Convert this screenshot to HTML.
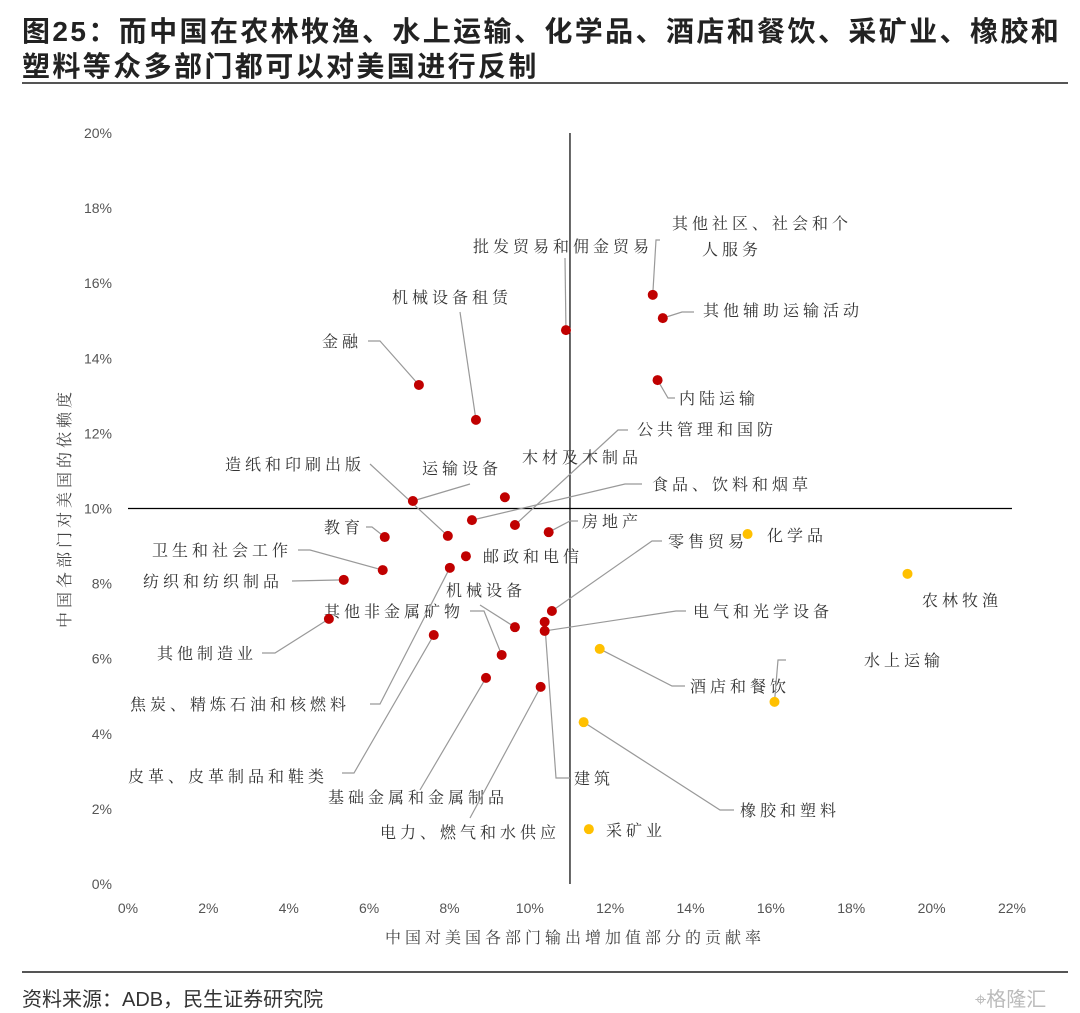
<!DOCTYPE html>
<html><head><meta charset="utf-8">
<style>
body{margin:0;background:#fff;width:1080px;height:1013px;overflow:hidden;font-family:"Liberation Sans","Noto Sans CJK SC",sans-serif}
.t{position:absolute;left:22px;font-size:28px;font-weight:bold;color:#222;letter-spacing:2.4px;white-space:nowrap}
</style></head><body>
<div class="t" style="top:10px">图25：而中国在农林牧渔、水上运输、化学品、酒店和餐饮、采矿业、橡胶和</div>
<div class="t" style="top:45px">塑料等众多部门都可以对美国进行反制</div>
<div style="position:absolute;left:22px;top:82px;width:1046px;height:2px;background:#555"></div>
<div style="position:absolute;left:22px;top:971px;width:1046px;height:2px;background:#555"></div>
<div style="position:absolute;left:22px;top:983px;font-size:20px;color:#333">资料来源：ADB，民生证券研究院</div>
<div style="position:absolute;left:975px;top:983px;font-size:20px;color:#bbb">⌖格隆汇</div>
<svg id="chart" width="1080" height="1013" style="position:absolute;left:0;top:0"></svg>
<script>
const xTicks=[0,2,4,6,8,10,12,14,16,18,20,22];
const yTicks=[0,2,4,6,8,10,12,14,16,18,20];
const crossX=11, crossY=10;
const names=["其他社区、社会和个人服务","其他辅助运输活动","批发贸易和佣金贸易","金融","内陆运输","机械设备租赁","运输设备","造纸和印刷出版","公共管理和国防","食品、饮料和烟草","房地产","教育","纸品","邮政和电信","卫生和社会工作","焦炭、精炼石油和核燃料","纺织和纺织制品","其他制造业","零售贸易","建筑","电气和光学设备","机械设备","皮革、皮革制品和鞋类","其他非金属矿物","基础金属和金属制品","电力、燃气和水供应","化学品","农林牧渔","酒店和餐饮","水上运输","橡胶和塑料","采矿业"];
const xVals=[13.06,13.31,10.9,7.24,13.18,8.66,9.38,7.09,9.63,8.56,10.47,6.39,7.96,8.41,6.34,8.01,5.37,5.0,10.55,10.37,10.37,9.63,7.61,9.3,8.91,10.27,15.42,19.4,11.74,16.09,11.34,11.47];
const yVals=[15.69,15.07,14.75,13.29,13.42,12.36,10.3,10.2,9.56,9.69,9.37,9.24,9.27,8.73,8.36,8.42,8.1,7.06,7.27,6.98,6.74,6.84,6.63,6.1,5.49,5.25,9.32,8.26,6.26,4.85,4.31,1.46];
const groups=["r","r","r","r","r","r","r","r","r","r","r","r","r","r","r","r","r","r","r","r","r","r","r","r","r","r","y","y","y","y","y","y"];
const X=v=>128+v*40.18, Y=v=>884-v*37.55;
const svg=document.getElementById('chart');
const NS="http://www.w3.org/2000/svg";
function mk(tag,at,txt){const e=document.createElementNS(NS,tag);for(const k in at)e.setAttribute(k,at[k]);if(txt!==undefined)e.textContent=txt;svg.appendChild(e);return e;}
let l=mk('line',{x1:X(0),x2:X(22),y1:Y(crossY),y2:Y(crossY),stroke:'#000','stroke-width':1.2});


l=mk('line',{x1:X(crossX),x2:X(crossX),y1:Y(20),y2:Y(0),stroke:'#000','stroke-width':1.2});


xTicks.forEach(t=>{const e=mk('text',{x:X(t),y:913,'text-anchor':'middle','font-size':14,fill:'#555'},t+'%');

});
yTicks.forEach(t=>{const e=mk('text',{x:112,y:Y(t)+5,'text-anchor':'end','font-size':14,fill:'#555'},t+'%');

});
let at=mk('text',{x:575,y:943,'text-anchor':'middle','font-size':16,fill:'#444','letter-spacing':4,'font-family':'"Noto Serif CJK SC",serif'},'中国对美国各部门输出增加值部分的贡献率');


at=mk('text',{x:0,y:0,'text-anchor':'middle','font-size':16,fill:'#444','letter-spacing':4,'font-family':'"Noto Serif CJK SC",serif',transform:'translate(70,508) rotate(-90)'},'中国各部门对美国的依赖度');


const labels=[
[["其他社区、社会和个","人服务"],672,229,[[660,240],[656,240]],0],
[["其他辅助运输活动"],703,316,[[694,312],[682,312]],1],
[["批发贸易和佣金贸易"],473,252,[[565,258]],2],
[["金融"],322,347,[[368,341],[380,341]],3],
[["内陆运输"],679,404,[[675,398],[668,398]],4],
[["机械设备租赁"],392,303,[[460,312]],5],
[["运输设备"],422,474,[[470,484]],7],
[["造纸和印刷出版"],225,470,[[370,464]],12],
[["公共管理和国防"],637,435,[[628,430],[618,430]],8],
[["木材及木制品"],522,463,[],-1],
[["食品、饮料和烟草"],652,490,[[642,484],[625,484]],9],
[["房地产"],582,527,[[578,521],[570,521]],10],
[["教育"],324,533,[[366,527],[372,527]],11],
[["卫生和社会工作"],152,556,[[298,550],[310,550]],14],
[["邮政和电信"],483,562,[],-1],
[["纺织和纺织制品"],143,587,[[292,581]],16],
[["机械设备"],446,596,[[480,605]],21],
[["其他非金属矿物"],324,617,[[470,611],[484,611]],23],
[["零售贸易"],668,547,[[662,541],[652,541]],18],
[["电气和光学设备"],693,617,[[686,611],[676,611]],20],
[["其他制造业"],157,659,[[262,653],[275,653]],17],
[["焦炭、精炼石油和核燃料"],130,710,[[370,704],[380,704]],15],
[["皮革、皮革制品和鞋类"],128,782,[[342,773],[354,773]],22],
[["建筑"],574,784,[[570,778],[556,778]],19],
[["基础金属和金属制品"],328,803,[[420,790]],24],
[["电力、燃气和水供应"],380,838,[[470,818]],25],
[["化学品"],767,541,[],-1],
[["农林牧渔"],922,606,[],-1],
[["酒店和餐饮"],690,692,[[685,686],[672,686]],28],
[["水上运输"],864,666,[[786,660],[778,660]],29],
[["橡胶和塑料"],740,816,[[734,810],[720,810]],30],
[["采矿业"],606,836,[],-1]
];
labels.forEach(L=>{
  if(L[4]>=0){const pts=L[3].concat([[X(xVals[L[4]]),Y(yVals[L[4]])]]);
    const p=mk('polyline',{points:pts.map(p=>p.join(',')).join(' '),fill:'none',stroke:'#999','stroke-width':1.2});
    
    }
  L[0].forEach((s,i)=>{const t=mk('text',{x:L[1]+(i?30:0),y:L[2]+i*26,'font-size':16,'letter-spacing':4,fill:'#333','font-family':'"Noto Serif CJK SC",serif'},s);
    
    });
});
xVals.forEach((v,i)=>{const c=mk('circle',{cx:X(v),cy:Y(yVals[i]),r:5,fill:groups[i]=='r'?'#c00000':'#ffc000'});

});
</script>
</body></html>
